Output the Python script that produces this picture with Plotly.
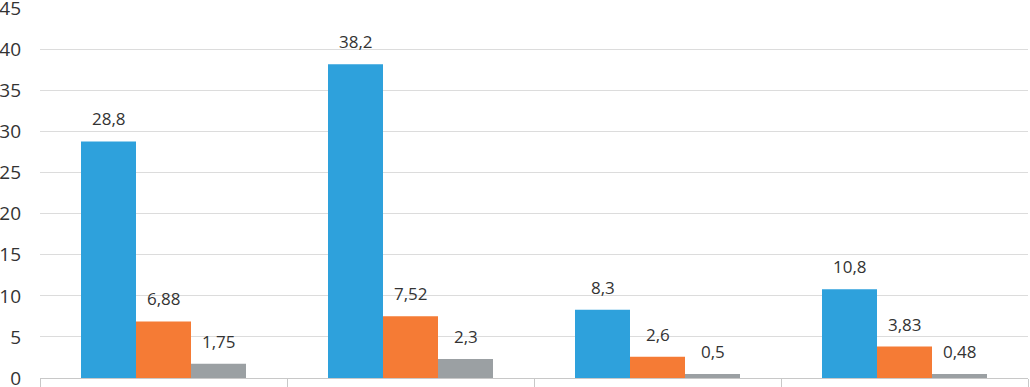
import plotly.graph_objects as go

categories = ["Group 1", "Group 2", "Group 3", "Group 4"]
series_blue = [28.8, 38.2, 8.3, 10.8]
series_orange = [6.88, 7.52, 2.6, 3.83]
series_gray = [1.75, 2.3, 0.5, 0.48]
labels_blue = ["28,8", "38,2", "8,3", "10,8"]
labels_orange = ["6,88", "7,52", "2,6", "3,83"]
labels_gray = ["1,75", "2,3", "0,5", "0,48"]
y_ticks = [0, 5, 10, 15, 20, 25, 30, 35, 40, 45]

colors = ["#2EA1DC", "#F57B35", "#9BA0A3"]
series = [series_blue, series_orange, series_gray]
labels = [labels_blue, labels_orange, labels_gray]

bargap = 0.332
bar_w = (1 - bargap) / 3

fig = go.Figure()
for vals, col in zip(series, colors):
    fig.add_trace(go.Bar(x=categories, y=vals, marker=dict(color=col, line=dict(width=0)),
                         hoverinfo="skip"))

annotations = []
for si, (vals, labs) in enumerate(zip(series, labels)):
    offset = (si - 1) * bar_w
    for ci, (v, lab) in enumerate(zip(vals, labs)):
        annotations.append(dict(x=ci + offset, y=v, xref="x", yref="y", text=lab,
                                showarrow=False, yanchor="bottom", yshift=9,
                                font=dict(family="Open Sans", size=17, color="#333333")))

fig.update_layout(
    width=1030, height=387,
    margin=dict(l=40, r=2, t=8, b=9, autoexpand=False),
    paper_bgcolor="white", plot_bgcolor="white",
    barmode="group", bargap=bargap, bargroupgap=0,
    showlegend=False,
    annotations=annotations,
    font=dict(family="Open Sans", size=17, color="#333333"),
)
fig.update_xaxes(showticklabels=False, showline=True, linecolor="#c8c8c8", linewidth=1,
                 ticks="outside", tickson="boundaries", ticklen=9, tickcolor="#c8c8c8",
                 showgrid=False, automargin=False)
fig.update_yaxes(range=[0, 45.05], tickvals=y_ticks, showgrid=True, gridcolor="#dcdcdc",
                 gridwidth=1, zeroline=False, showline=False, ticks="", automargin=False,
                 ticklabelstandoff=18, ticklabeloverflow="allow",
                 tickfont=dict(family="Open Sans", size=19, color="#333333"))

# remove the default 8px page margin so the figure fills the window exactly
fig.write_html("out.html", config={"displayModeBar": False},
               post_script="document.body.style.margin='0';")
